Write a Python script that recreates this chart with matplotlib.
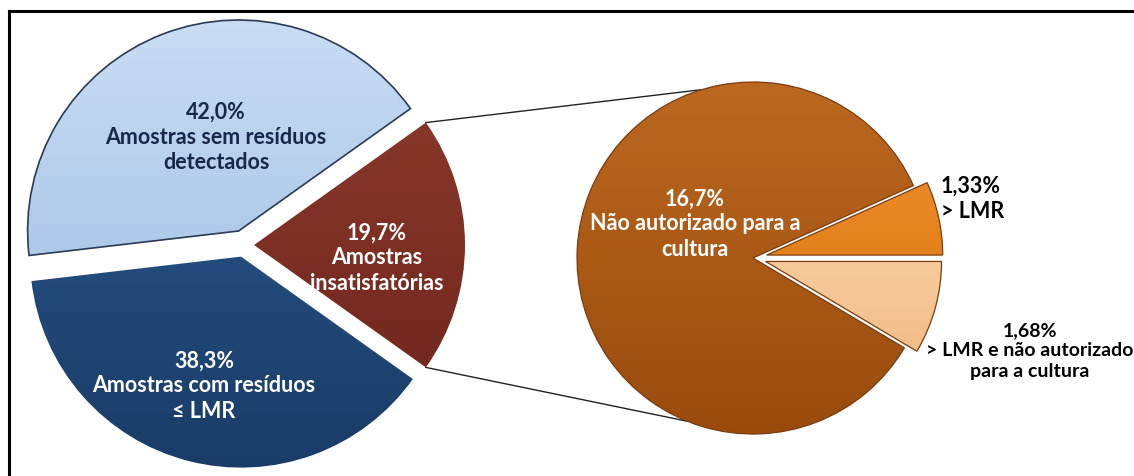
import matplotlib

matplotlib.use("Agg")

import matplotlib.pyplot as plt
from matplotlib.colors import LinearSegmentedColormap
from matplotlib.lines import Line2D
import numpy as np

# main pie: share of all samples (%)
main_labels = ["19,7%\nAmostras\ninsatisfatórias",
               "42,0%\nAmostras sem resíduos\ndetectados",
               "38,3%\nAmostras com resíduos\n≤ LMR"]
main_values = [19.7, 42.0, 38.3]
main_colors = [("#6c241b", "#8f3b2d"), ("#98b8df", "#c9ddf4"), ("#193c67", "#2c5b90")]
main_text_colors = ["white", "#18284a", "white"]

# breakdown of the unsatisfactory samples (%)
sub_labels = ["1,33%\n> LMR",
              "16,7%\nNão autorizado para a\ncultura",
              "1,68%\n> LMR e não autorizado\npara a cultura"]
sub_values = [1.33, 16.7, 1.68]
sub_colors = [("#d46c0a", "#f39630"), ("#9a4b0c", "#bb6820"), ("#f0b47a", "#fde0bd")]

W, H = 1134, 477
fig = plt.figure(figsize=(W / 100, H / 100), dpi=100)
fig.patch.set_facecolor("white")
ax = fig.add_axes([0, 0, 1, 1])

FONT = ["Lato", "DejaVu Sans"]


def shade(wedge, dark, light):
    """Fill a wedge with a vertical gradient (light on top)."""
    cx, cy = wedge.center
    r = wedge.r
    grad = np.linspace(0, 1, 256)[:, None]
    cmap = LinearSegmentedColormap.from_list("g", [dark, light])
    im = ax.imshow(grad, cmap=cmap, origin="lower", aspect="auto",
                   extent=[cx - r, cx + r, cy - r, cy + r],
                   zorder=wedge.get_zorder() - 0.01, interpolation="bilinear")
    im.set_clip_path(wedge)
    wedge.set_facecolor("none")


# left pie, red wedge centred on the right-hand side
c1, r1 = (244, H - 246), 211
start1 = -main_values[0] / 100 * 360 / 2
wedges1, _ = ax.pie(main_values, colors=[c[1] for c in main_colors],
                    startangle=start1, center=c1, radius=r1,
                    explode=[10, 15, 12], frame=True,
                    wedgeprops=dict(linewidth=0))
for w, (dk, lt) in zip(wedges1, main_colors):
    w.set_zorder(2)
    shade(w, dk, lt)
wedges1[1].set_edgecolor("#2b3a55")
wedges1[1].set_linewidth(1.2)

# right pie: composition of the red wedge
c2, r2 = (753, H - 259), 176
wedges2, _ = ax.pie(sub_values, colors=[c[1] for c in sub_colors],
                    startangle=0, center=c2, radius=r2,
                    explode=[14, 0, 13], frame=True,
                    wedgeprops=dict(linewidth=0.9, edgecolor="#7a3c10"))
for w, (dk, lt) in zip(wedges2, sub_colors):
    w.set_zorder(2)
    shade(w, dk, lt)

# connector lines from the red wedge to the right pie
red = wedges1[0]
rc = np.array(red.center)
for a_main, a_sub in [(red.theta2, 107), (red.theta1, 248)]:
    p0 = rc + r1 * np.array([np.cos(np.radians(a_main)), np.sin(np.radians(a_main))])
    p1 = np.array(c2) + r2 * np.array([np.cos(np.radians(a_sub)), np.sin(np.radians(a_sub))])
    ax.plot([p0[0], p1[0]], [p0[1], p1[1]], color="#222222", lw=1.0, zorder=1)

ax.set_xlim(0, W)
ax.set_ylim(0, H)
ax.set_aspect("equal")
ax.axis("off")

# labels
txt = dict(ha="center", va="center", fontsize=15.5, fontweight="bold",
           family=FONT, linespacing=1.25, zorder=5)
ax.text(216, H - 137, main_labels[1], color=main_text_colors[1], **txt)
ax.text(377, H - 258, main_labels[0], color=main_text_colors[0], **txt)
ax.text(204, H - 386, main_labels[2], color=main_text_colors[2], **txt)
ax.text(695, H - 224, sub_labels[1], color="white", **txt)
ax.text(941, H - 199, sub_labels[0], color="black", **{**txt, "ha": "left"})
ax.text(1030, H - 351, sub_labels[2], color="black", **{**txt, "fontsize": 14})

# frame (top and left edges)
fig.add_artist(Line2D([9 / W, 1], [1 - 12 / H, 1 - 12 / H], color="black", lw=2.2))
fig.add_artist(Line2D([9 / W, 9 / W], [0, 1 - 12 / H], color="black", lw=2.2))

fig.savefig("out.png", dpi=100, facecolor="white")
